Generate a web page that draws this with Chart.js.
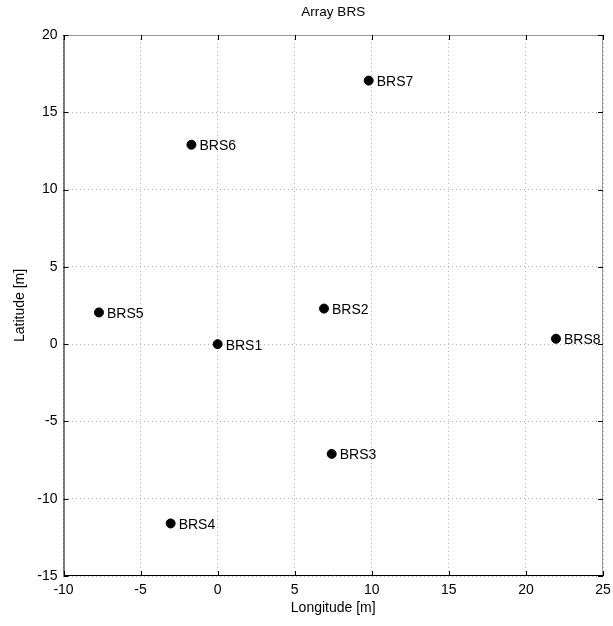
<!DOCTYPE html>
<html><head><meta charset="utf-8">
<script src="https://cdn.jsdelivr.net/npm/chart.js@4"></script>
<style>html,body{margin:0;padding:0;background:#fff}#wrap{width:613px;height:626px}</style>
</head><body><div id="wrap"><canvas id="c" width="613" height="626"></canvas></div>
<script>
const stationNames = ["BRS1","BRS2","BRS3","BRS4","BRS5","BRS6","BRS7","BRS8"];
const longitudes = [0.0, 6.9, 7.4, -3.05, -7.7, -1.7, 9.8, 21.95];
const latitudes = [0.0, 2.3, -7.1, -11.6, 2.05, 12.9, 17.05, 0.35];
const xTicks = [-10,-5,0,5,10,15,20,25];
const yTicks = [-15,-10,-5,0,5,10,15,20];
const chartTitle = "Array BRS";
const xTitle = "Longitude [m]";
const yTitle = "Latitude [m]";

const FONT = "'Liberation Sans', Arial, sans-serif";
const pts = longitudes.map((x,i)=>({x:x,y:latitudes[i]}));

const deco = {
  id:'deco',
  afterDraw(chart){
    const ctx = chart.ctx, a = chart.chartArea;
    const xs = chart.scales.x, ys = chart.scales.y;
    ctx.save();
    ctx.fillStyle = '#000';
    ctx.font = "13.5px " + FONT;
    ctx.textAlign = 'center'; ctx.textBaseline = 'middle';
    ctx.fillText(chartTitle, (a.left+a.right)/2, 12);
    ctx.lineWidth = 1;
    ctx.strokeStyle = '#999';
    ctx.beginPath();
    ctx.moveTo(a.left, a.top+0.5); ctx.lineTo(a.right-0.5, a.top+0.5); ctx.lineTo(a.right-0.5, a.bottom);
    ctx.stroke();
    ctx.strokeStyle = '#000';
    ctx.beginPath();
    ctx.moveTo(a.left+0.5, a.top); ctx.lineTo(a.left+0.5, a.bottom-0.5); ctx.lineTo(a.right, a.bottom-0.5);
    ctx.stroke();
    ctx.beginPath();
    xTicks.forEach(v=>{ const px = Math.round(xs.getPixelForValue(v))+0.5;
      ctx.moveTo(px, a.bottom); ctx.lineTo(px, a.bottom-5);
      ctx.moveTo(px, a.top); ctx.lineTo(px, a.top+5); });
    yTicks.forEach(v=>{ const py = Math.round(ys.getPixelForValue(v))+0.5;
      ctx.moveTo(a.left, py); ctx.lineTo(a.left+5, py);
      ctx.moveTo(a.right, py); ctx.lineTo(a.right-5, py); });
    ctx.stroke();
    ctx.font = "14px " + FONT;
    ctx.textAlign = 'left'; ctx.textBaseline = 'middle';
    const meta = chart.getDatasetMeta(0);
    meta.data.forEach((el,i)=>{
      ctx.fillText(stationNames[i], el.x + 8, el.y + 1.5);
    });
    ctx.restore();
  }
};

new Chart(document.getElementById('c'), {
  type:'scatter',
  data:{datasets:[{data:pts, backgroundColor:'#000', borderColor:'#000', pointRadius:4.5, pointHoverRadius:4.5}]},
  options:{
    responsive:false, animation:false,
    layout:{padding:{left:0,right:10,top:35,bottom:0}},
    plugins:{legend:{display:false}, tooltip:{enabled:false}, title:{display:false}},
    scales:{
      x:{type:'linear', min:-10, max:25,
        afterBuildTicks(s){ s.ticks = xTicks.map(v=>({value:v})); },
        afterFit(s){ s.height = 50; s.paddingRight = 0; },
        border:{display:false, dash:[1,3]},
        grid:{color:'#b4b4b4', lineWidth:1, drawTicks:false},
        ticks:{color:'#000', font:{family:FONT, size:14}, padding:6, maxRotation:0, autoSkip:false},
        title:{display:true, text:xTitle, color:'#000', font:{family:FONT, size:14}, padding:{top:2,bottom:9}}
      },
      y:{type:'linear', min:-15, max:20,
        afterBuildTicks(s){ s.ticks = yTicks.map(v=>({value:v})); },
        afterFit(s){ s.width = 63.5; },
        border:{display:false, dash:[1,3]},
        grid:{color:'#b4b4b4', lineWidth:1, drawTicks:false},
        ticks:{color:'#000', font:{family:FONT, size:14}, padding:6, autoSkip:false},
        title:{display:true, text:yTitle, color:'#000', font:{family:FONT, size:14}, padding:{top:12,bottom:4}}
      }
    }
  },
  plugins:[deco]
});
</script></body></html>
